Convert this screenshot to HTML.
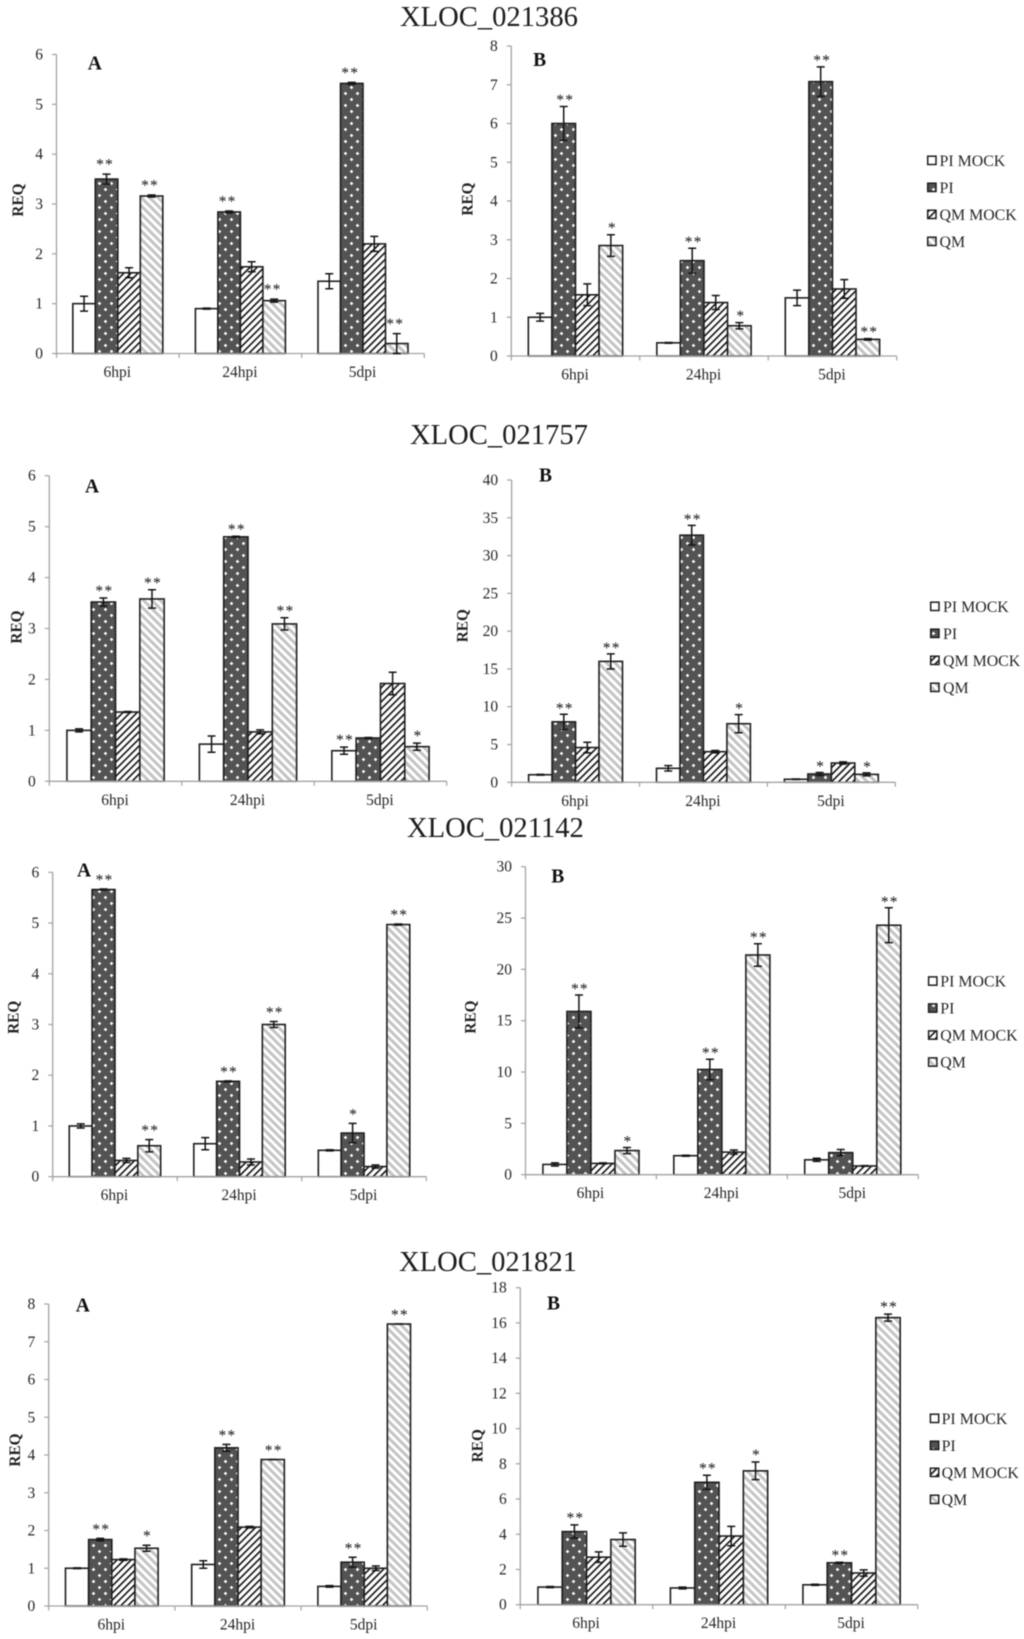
<!DOCTYPE html>
<html lang="en">
<head>
<meta charset="utf-8">
<title>REQ expression charts</title>
<style>
html,body{margin:0;padding:0;background:#fff;}
svg{display:block;filter:blur(0.4px);}
text{font-family:"Liberation Serif",serif;fill:#262626;}
.gene-title{font-size:28.6px;fill:#1c1c1c;}
.panel-letter{font-size:19.5px;font-weight:bold;fill:#111;}
.tick{font-size:15.5px;}
.ylab{font-size:15.3px;font-weight:bold;fill:#222;}
.star{font-size:15.5px;letter-spacing:1.2px;fill:#111;}
.legend-text{font-size:15.9px;}
</style>
</head>
<body>
<svg id="root" xmlns="http://www.w3.org/2000/svg" width="1024" height="1639" viewBox="0 0 1024 1639">
  <defs>
    <pattern id="check" width="2" height="2" patternUnits="userSpaceOnUse">
      <rect width="2" height="2" fill="#000"/>
      <rect width="1" height="1" fill="#a6a6a6"/>
      <rect x="1" y="1" width="1" height="1" fill="#a6a6a6"/>
    </pattern>
    <pattern id="fill-pi" width="12" height="12" patternUnits="userSpaceOnUse">
      <rect width="12" height="12" fill="url(#check)"/>
      <path d="M3 2h1v1h1v1h-1v1h-1v-1h-1v-1h1zM9 8h1v1h1v1h-1v1h-1v-1h-1v-1h1z" fill="#fff"/>
    </pattern>
    <pattern id="fill-qm-mock" width="5" height="5" patternUnits="userSpaceOnUse" patternTransform="rotate(45)">
      <rect width="5" height="5" fill="#fff"/>
      <rect width="1.6" height="5" fill="#111"/>
    </pattern>
    <pattern id="fill-qm" width="5.9" height="5.9" patternUnits="userSpaceOnUse" patternTransform="rotate(-45)">
      <rect width="5.9" height="5.9" fill="#fff"/>
      <rect width="3" height="5.9" fill="#c4c4c4"/>
    </pattern>
  </defs>

  <text class="gene-title" x="400" y="26">XLOC_021386</text>
  <text class="gene-title" x="410" y="444">XLOC_021757</text>
  <text class="gene-title" x="407" y="837">XLOC_021142</text>
  <text class="gene-title" x="399" y="1271">XLOC_021821</text>

  <g id="panels"></g>
  <g id="legends"></g>
</svg>

<script>
// ---- shared labels ----
const categories = ['6hpi', '24hpi', '5dpi'];
const seriesNames = ['PI MOCK', 'PI', 'QM MOCK', 'QM'];

// ---- values: one row per series (PI MOCK, PI, QM MOCK, QM), one entry per category ----
const ticks_1A = [0, 1, 2, 3, 4, 5, 6];
const values_1A = [[1, 0.9, 1.45], [3.5, 2.84, 5.42], [1.62, 1.74, 2.2], [3.16, 1.06, 0.2]];
const errors_1A = [[0.15, 0.01, 0.15], [0.1, 0.02, 0.02], [0.1, 0.1, 0.15], [0.02, 0.03, 0.2]];
const stars_1A = [['', '', ''], ['**', '**', '**'], ['', '', ''], ['**', '**', '**']];

const ticks_1B = [0, 1, 2, 3, 4, 5, 6, 7, 8];
const values_1B = [[1, 0.34, 1.5], [6, 2.46, 7.08], [1.58, 1.38, 1.73], [2.85, 0.78, 0.43]];
const errors_1B = [[0.1, 0.01, 0.2], [0.44, 0.32, 0.38], [0.28, 0.18, 0.24], [0.28, 0.08, 0.02]];
const stars_1B = [['', '', ''], ['**', '**', '**'], ['', '', ''], ['*', '*', '**']];

const ticks_2A = [0, 1, 2, 3, 4, 5, 6];
const values_2A = [[1, 0.73, 0.6], [3.52, 4.8, 0.85], [1.36, 0.97, 1.92], [3.58, 3.09, 0.68]];
const errors_2A = [[0.03, 0.16, 0.07], [0.08, 0.01, 0.01], [0.01, 0.04, 0.22], [0.18, 0.12, 0.07]];
const stars_2A = [['', '', '**'], ['**', '**', ''], ['', '', ''], ['**', '**', '*']];

const ticks_2B = [0, 5, 10, 15, 20, 25, 30, 35, 40];
const values_2B = [[1, 1.85, 0.4], [8, 32.7, 1.1], [4.6, 4.05, 2.55], [16, 7.75, 1.05]];
const errors_2B = [[0.05, 0.35, 0.03], [1, 1.3, 0.2], [0.7, 0.15, 0.15], [1, 1.2, 0.2]];
const stars_2B = [['', '', ''], ['**', '**', '*'], ['', '', ''], ['**', '*', '*']];

const ticks_3A = [0, 1, 2, 3, 4, 5, 6];
const values_3A = [[1, 0.65, 0.52], [5.66, 1.88, 0.86], [0.32, 0.29, 0.2], [0.61, 3, 4.97]];
const errors_3A = [[0.04, 0.12, 0.01], [0.01, 0.01, 0.19], [0.04, 0.06, 0.03], [0.12, 0.06, 0.01]];
const stars_3A = [['', '', ''], ['**', '**', '*'], ['', '', ''], ['**', '**', '**']];

const ticks_3B = [0, 5, 10, 15, 20, 25, 30];
const values_3B = [[1, 1.85, 1.45], [15.9, 10.25, 2.15], [1.1, 2.2, 0.85], [2.35, 21.4, 24.3]];
const errors_3B = [[0.15, 0.05, 0.15], [1.6, 1, 0.3], [0.05, 0.2, 0.03], [0.3, 1.1, 1.7]];
const stars_3B = [['', '', ''], ['**', '**', ''], ['', '', ''], ['*', '**', '**']];

const ticks_4A = [0, 1, 2, 3, 4, 5, 6, 7, 8];
const values_4A = [[1, 1.1, 0.52], [1.76, 4.19, 1.16], [1.23, 2.09, 1], [1.53, 3.88, 7.47]];
const errors_4A = [[0.01, 0.1, 0.02], [0.03, 0.09, 0.13], [0.02, 0.02, 0.06], [0.08, 0, 0]];
const stars_4A = [['', '', ''], ['**', '**', '**'], ['', '', ''], ['*', '**', '**']];

const ticks_4B = [0, 2, 4, 6, 8, 10, 12, 14, 16, 18];
const values_4B = [[1, 0.95, 1.13], [4.15, 6.95, 2.38], [2.7, 3.9, 1.8], [3.7, 7.6, 16.3]];
const errors_4B = [[0.03, 0.05, 0.03], [0.38, 0.4, 0.03], [0.3, 0.55, 0.18], [0.38, 0.5, 0.2]];
const stars_4B = [['', '', ''], ['**', '**', '**'], ['', '', ''], ['', '*', '**']];

// ---- layout (plot frames, not data) ----
const panels = [
  {id:'1a', letter:'A', ticks:ticks_1A, values:values_1A, errors:errors_1A, stars:stars_1A, left:56.5, right:424.3, bottom:353.5, top:54.5, letterX:87.7, letterY:69.3, yLabX:23, yLabY:200, starGap:3.5, starShift:-1.5},
  {id:'1b', letter:'B', ticks:ticks_1B, values:values_1B, errors:errors_1B, stars:stars_1B, left:511.25, right:896.7, bottom:356, top:46, letterX:533.1, letterY:66, yLabX:472.7, yLabY:199, starGap:0.5, starShift:1.5},
  {id:'2a', letter:'A', ticks:ticks_2A, values:values_2A, errors:errors_2A, stars:stars_2A, left:49.3, right:446.7, bottom:781.3, top:475.7, letterX:85, letterY:492.3, yLabX:21.7, yLabY:627, starGap:1, starShift:1},
  {id:'2b', letter:'B', ticks:ticks_2B, values:values_2B, errors:errors_2B, stars:stars_2B, left:511.6, right:895.3, bottom:782.3, top:480, letterX:539, letterY:481.7, yLabX:467.5, yLabY:625.7, starGap:0, starShift:1},
  {id:'3a', letter:'A', ticks:ticks_3A, values:values_3A, errors:errors_3A, stars:stars_3A, left:52.7, right:426.3, bottom:1176.7, top:872.3, letterX:77, letterY:876.7, yLabX:18.3, yLabY:1017.3, starGap:3, starShift:1},
  {id:'3b', letter:'B', ticks:ticks_3B, values:values_3B, errors:errors_3B, stars:stars_3B, left:525.5, right:918.2, bottom:1174.7, top:866.7, letterX:551.2, letterY:882.7, yLabX:475.3, yLabY:1017, starGap:0, starShift:1},
  {id:'4a', letter:'A', ticks:ticks_4A, values:values_4A, errors:errors_4A, stars:stars_4A, left:48.7, right:427.3, bottom:1606, top:1304, letterX:75.7, letterY:1311.3, yLabX:20, yLabY:1450, starGap:3, starShift:1},
  {id:'4b', letter:'B', ticks:ticks_4B, values:values_4B, errors:errors_4B, stars:stars_4B, left:520.3, right:917.8, bottom:1604.7, top:1287.7, letterX:547, letterY:1309.7, yLabX:482.7, yLabY:1445.7, starGap:1, starShift:1}
];
const legendFrames = [
  {id:'1', boxX:927.7, textX:939.5, baseY:166},
  {id:'2', boxX:930.7, textX:943, baseY:612},
  {id:'3', boxX:928.6, textX:940.3, baseY:986.7},
  {id:'4', boxX:930.4, textX:941.6, baseY:1424}
];
const seriesFills = ['#fff', 'url(#fill-pi)', 'url(#fill-qm-mock)', 'url(#fill-qm)'];

const NS = 'http://www.w3.org/2000/svg';
const AXIS = '#a2a2a2';
const INK = '#1e1e1e';

function make(tag, attrs, parent) {
  const node = document.createElementNS(NS, tag);
  for (const k in attrs) node.setAttribute(k, attrs[k]);
  parent.appendChild(node);
  return node;
}
function slug(s) { return s.toLowerCase().replace(/\s+/g, '-'); }

const panelsRoot = document.getElementById('panels');

panels.forEach(function (p) {
  const maxTick = p.ticks[p.ticks.length - 1];
  const yScale = function (v) { return p.bottom - (v / maxTick) * (p.bottom - p.top); };
  const catWidth = (p.right - p.left) / categories.length;
  const barWidth = catWidth * 0.1835;
  const groupStart = function (c) { return p.left + c * catWidth + (catWidth - barWidth * seriesNames.length) / 2; };

  const g = make('g', {}, panelsRoot);
  
  

  const letter = make('text', {class:'panel-letter', x:p.letterX, y:p.letterY}, g);
  
  
  letter.textContent = p.letter;

  const yLab = make('text', {class:'ylab', x:p.yLabX, y:p.yLabY, 'text-anchor':'middle', transform:'rotate(-90 ' + p.yLabX + ' ' + p.yLabY + ')'}, g);
  
  
  yLab.textContent = 'REQ';

  // bars
  seriesNames.forEach(function (name, s) {
    categories.forEach(function (cat, c) {
      const v = p.values[s][c];
      const bar = make('rect', {
        x: groupStart(c) + s * barWidth,
        y: yScale(v),
        width: barWidth,
        height: p.bottom - yScale(v),
        fill: seriesFills[s],
        stroke: INK,
        'stroke-width': 1.6
      }, g);
      
      
    });
  });

  // axes
  const yAxis = make('line', {x1:p.left, x2:p.left, y1:p.top, y2:p.bottom, stroke:AXIS, 'stroke-width':1.3}, g);
  
  
  const xAxis = make('line', {x1:p.left, x2:p.right, y1:p.bottom, y2:p.bottom, stroke:AXIS, 'stroke-width':1.3}, g);
  
  

  p.ticks.forEach(function (t) {
    const mark = make('line', {x1:p.left - 4.5, x2:p.left, y1:yScale(t), y2:yScale(t), stroke:AXIS, 'stroke-width':1.2}, g);
    
    
    const lab = make('text', {class:'tick', x:p.left - 13.5, y:yScale(t) + 5, 'text-anchor':'end'}, g);
    
    
    lab.textContent = t;
  });

  for (let i = 0; i <= categories.length; i++) {
    const tx = p.left + i * catWidth;
    const mark = make('line', {x1:tx, x2:tx, y1:p.bottom, y2:p.bottom + 4.5, stroke:AXIS, 'stroke-width':1.2}, g);
    
    
  }
  categories.forEach(function (cat, c) {
    const lab = make('text', {class:'tick', x:p.left + (c + 0.5) * catWidth - 0.5, y:p.bottom + 23.5, 'text-anchor':'middle'}, g);
    
    
    lab.textContent = cat;
  });

  // error bars and significance stars
  seriesNames.forEach(function (name, s) {
    categories.forEach(function (cat, c) {
      const v = p.values[s][c];
      const e = p.errors[s][c];
      const cx = groupStart(c) + (s + 0.5) * barWidth;
      const yHi = yScale(v + e);
      const yLo = yScale(v - e);
      const err = make('path', {
        d: 'M' + cx + ' ' + yHi + 'V' + yLo + 'M' + (cx - 4) + ' ' + yHi + 'H' + (cx + 4) + 'M' + (cx - 4) + ' ' + yLo + 'H' + (cx + 4),
        fill: 'none',
        stroke: '#141414',
        'stroke-width': 1.5
      }, g);
      
      

      const mark = p.stars[s][c];
      if (mark) {
        const star = make('text', {class:'star', x:cx + p.starShift, y:yHi - 1 - p.starGap, 'text-anchor':'middle'}, g);
        
        
        star.textContent = mark;
      }
    });
  });
});

const legendsRoot = document.getElementById('legends');

legendFrames.forEach(function (f) {
  const g = make('g', {}, legendsRoot);
  
  
  seriesNames.forEach(function (name, s) {
    const rowY = f.baseY + s * 27;
    const box = make('rect', {x:f.boxX, y:rowY - 9.8, width:8.3, height:8.3, fill:seriesFills[s], stroke:INK, 'stroke-width':1.5}, g);
    
    
    const label = make('text', {class:'legend-text', x:f.textX, y:rowY}, g);
    
    
    label.textContent = name;
  });
});
</script>
</body>
</html>
